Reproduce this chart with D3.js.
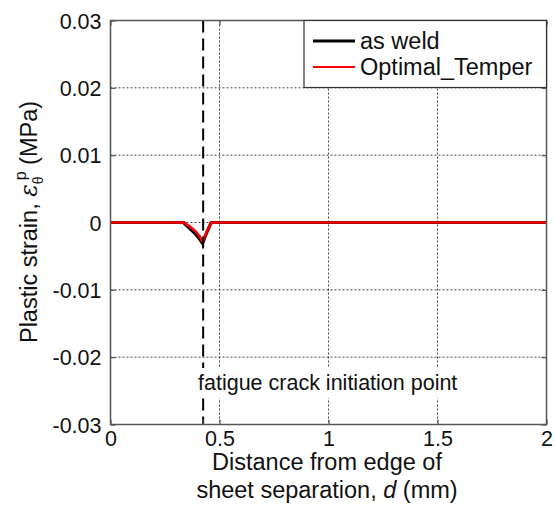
<!DOCTYPE html>
<html>
<head>
<meta charset="utf-8">
<script src="https://cdn.jsdelivr.net/npm/d3@7/dist/d3.min.js"></script>
<style>
  html, body { margin: 0; padding: 0; background: #fff; }
  text { font-family: Arial, "Liberation Sans", sans-serif; fill: #111; }
</style>
</head>
<body>
<svg id="chart" width="555" height="510"></svg>
<script>
// Distance from edge of sheet separation (mm)
const distance = [0, 0.1, 0.2, 0.3, 0.335, 0.36, 0.39, 0.41, 0.422, 0.44, 0.462, 0.5, 0.75, 1.0, 1.25, 1.5, 1.75, 2.0];
// Plastic hoop strain for each condition
const asWeld = [0, 0, 0, 0, 0, -0.0008, -0.0017, -0.0025, -0.0031, -0.0016, 0, 0, 0, 0, 0, 0, 0, 0];
const optimalTemper = [0, 0, 0, 0, 0, -0.0005, -0.0013, -0.0021, -0.0029, -0.0015, 0, 0, 0, 0, 0, 0, 0, 0];
const seriesNames = ["as weld", "Optimal_Temper"];
const seriesColors = ["#000000", "#ff0000"];
const xTicks = [0, 0.5, 1, 1.5, 2];
const yTicks = [-0.03, -0.02, -0.01, 0, 0.01, 0.02, 0.03];
const crackPoint = 0.425;
const crackLabel = "fatigue crack initiation point";

const svg = d3.select("#chart");
const pL = 110.5, pR = 546.5, pT = 20.5, pB = 424.5;

const x = d3.scaleLinear().domain([0, 2]).range([pL, pR]);
const y = d3.scaleLinear().domain([-0.03, 0.03]).range([pB, pT]);

// dotted grid
const grid = svg.append("g");
grid.selectAll(".gx").data(xTicks.filter(t => t > 0 && t < 2)).enter().append("line")
  .attr("x1", d => x(d)).attr("x2", d => x(d)).attr("y1", pT).attr("y2", pB)
  .attr("stroke", "#444").attr("stroke-width", 1).attr("stroke-dasharray", "2,2");
grid.selectAll(".gy").data(yTicks.filter(t => t > -0.03 && t < 0.03)).enter().append("line")
  .attr("x1", pL).attr("x2", pR).attr("y1", d => y(d)).attr("y2", d => y(d))
  .attr("stroke", "#444").attr("stroke-width", 1).attr("stroke-dasharray", "2,2");

// axes with inward ticks on all four sides
const fmtY = d => d === 0 ? "0" : d3.format(".2f")(d).replace("−", "-");
const fmtX = d => String(d);
const axB = svg.append("g").attr("transform", `translate(0,${pB})`)
  .call(d3.axisBottom(x).tickValues(xTicks).tickFormat(fmtX).tickSizeInner(-5).tickSizeOuter(0).tickPadding(2));
const axT = svg.append("g").attr("transform", `translate(0,${pT})`)
  .call(d3.axisTop(x).tickValues(xTicks).tickFormat("").tickSizeInner(-5).tickSizeOuter(0));
const axL = svg.append("g").attr("transform", `translate(${pL},0)`)
  .call(d3.axisLeft(y).tickValues(yTicks).tickFormat(fmtY).tickSizeInner(-5).tickSizeOuter(0).tickPadding(9));
const axR = svg.append("g").attr("transform", `translate(${pR},0)`)
  .call(d3.axisRight(y).tickValues(yTicks).tickFormat("").tickSizeInner(-5).tickSizeOuter(0));
[axB, axT, axL, axR].forEach(g => {
  g.select(".domain").remove();
  g.selectAll(".tick line").attr("stroke", "#555").attr("stroke-width", 1.2);
  g.selectAll(".tick text").attr("font-size", 21.5).attr("fill", "#111")
    .attr("font-family", "Arial, 'Liberation Sans', sans-serif");
});
axB.selectAll(".tick text").attr("y", 0).attr("dy", "1.02em");
axL.selectAll(".tick text").attr("dy", "0.36em");

// data lines
const line = d3.line().x((d, i) => x(distance[i])).y(d => y(d));
[asWeld, optimalTemper].forEach((s, k) => {
  svg.append("path").datum(s).attr("d", line)
    .attr("fill", "none").attr("stroke", seriesColors[k])
    .attr("stroke-width", k === 0 ? 3.2 : 2.6).attr("stroke-linejoin", "round");
});

// crack initiation marker
svg.append("line")
  .attr("x1", x(crackPoint)).attr("x2", x(crackPoint)).attr("y1", pT).attr("y2", pB)
  .attr("stroke", "#000").attr("stroke-width", 2).attr("stroke-dasharray", "12,6");
svg.append("line")
  .attr("x1", x(crackPoint)).attr("x2", x(crackPoint)).attr("y1", pB).attr("y2", pB - 5)
  .attr("stroke", "#555").attr("stroke-width", 1.2);

const ann = svg.append("g");
const annText = ann.append("text").attr("x", 198).attr("y", 390)
  .attr("font-size", 21.5).text(crackLabel);
const bb = annText.node().getBBox();
ann.insert("rect", "text").attr("x", bb.x - 2).attr("y", bb.y - 3)
  .attr("width", bb.width + 12).attr("height", bb.height + 6).attr("fill", "#fff");

// plot frame
svg.append("rect").attr("x", pL).attr("y", pT).attr("width", pR - pL).attr("height", pB - pT)
  .attr("fill", "none").attr("stroke", "#555").attr("stroke-width", 1.5);

// legend
const lg = svg.append("g");
const lgX = 304, lgW = pR - lgX, lgH = 67;
lg.append("rect").attr("x", lgX).attr("y", pT).attr("width", lgW).attr("height", lgH)
  .attr("fill", "#fff").attr("stroke", "#333").attr("stroke-width", 1.2);
seriesNames.forEach((n, i) => {
  const ly = 41 + i * 26;
  lg.append("line").attr("x1", 313).attr("x2", 355).attr("y1", ly).attr("y2", ly)
    .attr("stroke", seriesColors[i]).attr("stroke-width", i === 0 ? 3 : 2);
  lg.append("text").attr("x", 360).attr("y", ly).attr("dy", "0.35em")
    .attr("font-size", 23.5).text(n);
});

// axis titles
const xl = svg.append("text").attr("text-anchor", "middle").attr("font-size", 23.5);
xl.append("tspan").attr("x", 327).attr("y", 470).text("Distance from edge of");
const xl2 = svg.append("text").attr("text-anchor", "middle").attr("font-size", 23.5)
  .attr("x", 327).attr("y", 498);
xl2.append("tspan").text("sheet separation, ");
xl2.append("tspan").attr("font-style", "italic").text("d");
xl2.append("tspan").text(" (mm)");

const yl = svg.append("text").attr("text-anchor", "middle").attr("font-size", 23.5)
  .attr("transform", "translate(37,222) rotate(-90)");
yl.append("tspan").text("Plastic strain, ");
yl.append("tspan").attr("font-style", "italic").attr("font-family", "'DejaVu Serif', serif").text("ε");
yl.append("tspan").attr("font-size", 14).attr("dy", 6).text("θ");
yl.append("tspan").attr("font-size", 16).attr("dx", -4).attr("dy", -17).text("p");
yl.append("tspan").attr("dy", 11).text(" (MPa)");
</script>
</body>
</html>
